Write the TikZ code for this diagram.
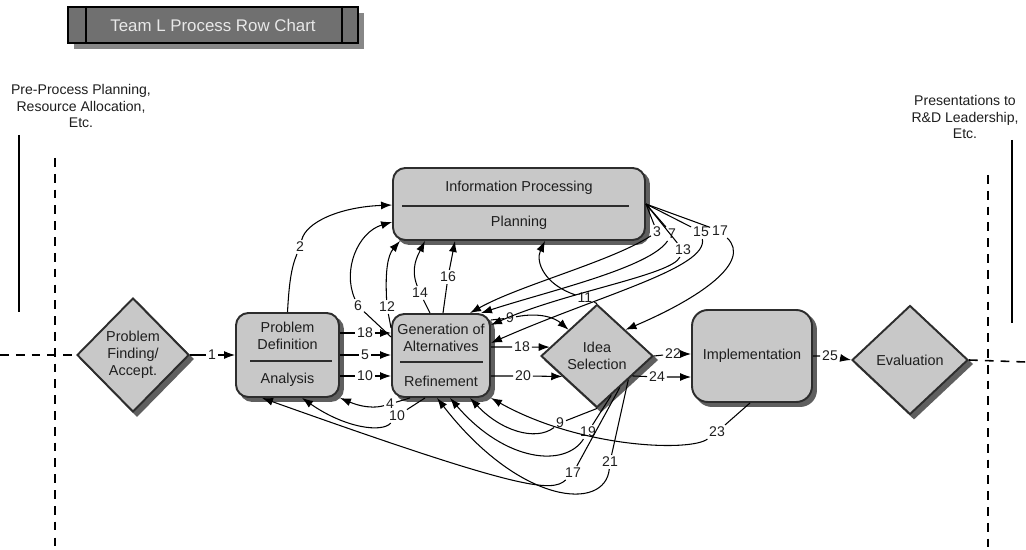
\documentclass[tikz,border=0pt]{standalone}
\usepackage{fontspec}
\setmainfont{Liberation Sans}
\usepackage{xcolor}
\usepackage{tikz}
\usetikzlibrary{arrows.meta,shapes.geometric,calc}
\definecolor{boxfill}{RGB}{200,200,200}
\definecolor{boxline}{RGB}{45,45,45}
\definecolor{shadowgray}{RGB}{95,95,95}
\definecolor{titlefill}{RGB}{112,112,112}
\definecolor{titleshade}{RGB}{135,135,135}
\definecolor{titletext}{RGB}{232,232,232}
\definecolor{inktext}{RGB}{30,30,30}
\newcommand\boxfont{\fontsize{8.2}{9.8}\selectfont}
\newcommand\numfont{\fontsize{8}{9}\selectfont}
\tikzset{
    box/.style={rectangle,draw=boxline,line width=1.1pt,fill=boxfill,rounded corners=7pt,inner sep=0pt},
    dia/.style={diamond,draw=boxline,line width=1.1pt,fill=boxfill,inner sep=0pt,align=center,text=inktext},
    shadowed/.style={fill=shadowgray,draw=shadowgray},
    titlebox/.style={rectangle,draw=black,line width=1.3pt,fill=titlefill,text=titletext,
        font=\fontsize{9.6}{11}\selectfont},
    txt/.style={align=center,text=inktext},
    note/.style={align=center,text=inktext,font=\fontsize{8}{9.2}\selectfont},
    lbl/.style={inner sep=1pt,text=inktext,font=\numfont},
    arr/.style={-{Latex[length=2.2mm,width=1.6mm]},line width=0.6pt},
    sepline/.style={draw=boxline,line width=1pt},
    guide/.style={line width=0.9pt,dash pattern=on 5pt off 4pt},
}
\begin{document}
\begin{tikzpicture}[x=0.02cm,y=-0.02cm,every node/.style={font=\boxfont}]
\useasboundingbox (0,0) rectangle (1026,550);

\node[rectangle,fill=titleshade,minimum width=5.8cm,minimum height=0.72cm] (titlesh) at (219,31) {};
\node[titlebox,minimum width=5.8cm,minimum height=0.72cm] (title) at (213,25) {Team L Process Row Chart};
\draw[line width=1.2pt] (title.north -| 86,0) -- (title.south -| 86,0);
\draw[line width=1.2pt] (title.north -| 342,0) -- (title.south -| 342,0);

\node[note] (pre) at (81,106) {Pre-Process Planning,\\Resource Allocation,\\Etc.};
\node[note] (post) at (965,117) {Presentations to\\R\&D Leadership,\\Etc.};

\draw[line width=1.1pt] (19,135) -- (19,312);
\draw[guide] (55,158) -- (55,550);
\draw[line width=1.1pt] (1012,140) -- (1012,323);
\draw[guide] (988,175) -- (988,550);

\node[dia,shadowed,minimum width=2.24cm,minimum height=2.28cm] (pfash) at (137,359) {};
\node[dia,minimum width=2.24cm,minimum height=2.28cm] (pfa) at (133,355) {Problem\\Finding/\\Accept.};
\node[box,shadowed,minimum width=2.06cm,minimum height=1.68cm] (pdsh) at (291.5,359) {};
\node[box,minimum width=2.06cm,minimum height=1.68cm] (pd) at (287.5,355) {};
\node[txt] (pdtop) at (287.5,336) {Problem\\Definition};
\node[txt] (pdbot) at (287.5,380) {Analysis};
\draw[sepline] (250,361) -- (332,361);
\node[box,shadowed,minimum width=1.96cm,minimum height=1.66cm] (gensh) at (445,359.5) {};
\node[box,minimum width=1.96cm,minimum height=1.66cm] (gen) at (441,355.5) {};
\node[txt] (gentop) at (441,338) {Generation of\\Alternatives};
\node[txt] (genbot) at (441,381) {Refinement};
\draw[sepline] (400,362) -- (483,362);
\node[box,shadowed,minimum width=5.04cm,minimum height=1.44cm] (infosh) at (523,208) {};
\node[box,minimum width=5.04cm,minimum height=1.44cm] (info) at (519,204) {};
\node[txt] (infotop) at (519,188) {Information Processing};
\node[txt] (infobot) at (519,223) {Planning};
\draw[sepline] (402,206) -- (629,206);
\node[dia,shadowed,minimum width=2.24cm,minimum height=2.06cm] (issh) at (601,360) {};
\node[dia,minimum width=2.24cm,minimum height=2.06cm] (is) at (597,356) {Idea\\Selection};
\node[box,shadowed,minimum width=2.4cm,minimum height=1.84cm,rounded corners=9pt] (implsh) at (756,360) {};
\node[box,minimum width=2.4cm,minimum height=1.84cm,rounded corners=9pt,text=inktext] (impl) at (752,356) {Implementation};
\node[dia,shadowed,minimum width=2.32cm,minimum height=2.18cm] (evalsh) at (914,364) {};
\node[dia,minimum width=2.32cm,minimum height=2.18cm] (eval) at (910,360) {Evaluation};

\draw[guide] (0,355) -- (pfa.west);
\draw[guide] (eval.east) -- (1026,362);

\node[lbl] (n1) at (212,355) {1};
\node[lbl] (n2) at (300,247) {2};
\node[lbl] (n6) at (358,306) {6};
\node[lbl] (n12) at (387,307) {12};
\node[lbl] (n14) at (420,293) {14};
\node[lbl] (n16) at (448,277) {16};
\node[lbl] (n18a) at (365,333) {18};
\node[lbl] (n5) at (365,355) {5};
\node[lbl] (n10a) at (365,376) {10};
\node[lbl] (n4) at (390,404) {4};
\node[lbl] (n10b) at (397,416) {10};
\node[lbl] (n3) at (657,232) {3};
\node[lbl] (n7) at (672,234) {7};
\node[lbl] (n13) at (683,250) {13};
\node[lbl] (n15) at (701,232) {15};
\node[lbl] (n17a) at (720,231) {17};
\node[lbl] (n11) at (585,298) {11};
\node[lbl] (n9a) at (510,318) {9};
\node[lbl] (n18b) at (522,347) {18};
\node[lbl] (n20) at (523,376) {20};
\node[lbl] (n22) at (673,354) {22};
\node[lbl] (n24) at (657,377) {24};
\node[lbl] (n25) at (830,356) {25};
\node[lbl] (n9b) at (560,423) {9};
\node[lbl] (n19) at (588,432) {19};
\node[lbl] (n21) at (610,462) {21};
\node[lbl] (n17b) at (573,473) {17};
\node[lbl] (n23) at (717,432) {23};

\draw[arr] (pfa.east) -- (n1) -- (pd.west |- n1);
\draw[arr] (pd.east |- n18a) -- (n18a) -- (gen.west |- n18a);
\draw[arr] (pd.east |- n5) -- (n5) -- (gen.west |- n5);
\draw[arr] (pd.east |- n10a) -- (n10a) -- (gen.west |- n10a);
\draw[arr] (gen.south -| 410,0) -- (n4) .. controls (368,410) and (352,403) .. (pd.south east);
\draw[arr] (gen.south -| 425,0) -- (n10b) .. controls (382,433) and (345,428) .. (pd.south -| 302,0);

\draw[arr] (pd.north) .. controls (289,285) and (291,268) .. (n2) .. controls (306,222) and (340,207) .. (info.west |- 0,205);
\draw[arr] (gen.west |- 0,337) -- (n6) .. controls (342,270) and (358,232) .. (info.west |- 0,222);
\draw[arr] (gen.west |- 0,328) -- (n12) .. controls (385,270) and (388,255) .. (info.south -| 400,0);
\draw[arr] (gen.north -| 430,0) -- (n14) .. controls (410,268) and (418,255) .. (info.south -| 425,0);
\draw[arr] (gen.north -| 443,0) -- (n16) -- (info.south -| 455,0);
\draw[arr] (is.north) -- (n11) .. controls (545,285) and (535,262) .. (info.south -| 545,0);

\draw[arr] (info.east) -- (n3) .. controls (610,262) and (520,285) .. (gen.north -| 470,0);
\draw[arr] (info.east) -- (n7) .. controls (650,268) and (545,292) .. (gen.north -| 481,0);
\draw[arr] (info.east) -- (n13) .. controls (672,275) and (565,292) .. (gen.east |- 0,325);
\draw[arr] (info.east) -- (n15) .. controls (708,268) and (600,295) .. (gen.east |- 0,343);
\draw[arr] (info.east) -- (n17a) .. controls (752,262) and (700,298) .. (is.north east);

\draw[arr] (gen.east |- 0,320) -- (n9a) .. controls (540,312) and (555,318) .. (is.north west);
\draw[arr] (gen.east |- n18b) -- (n18b) -- ($(is.west)!.17!(is.north)$);
\draw[arr] (gen.east |- n20) -- (n20) -- ($(is.west)!.39!(is.south)$);
\draw[arr] (is.east) -- (n22) -- (impl.west |- n22);
\draw[arr] ($(is.east)!.38!(is.south)$) -- (n24) -- (impl.west |- n24);
\draw[arr] (impl.east |- n25) -- (n25) -- (eval.west);

\draw[arr] (is.south) -- (n9b) .. controls (535,442) and (500,430) .. (gen.south -| 470,0);
\draw[arr] ($(is.east)!.75!(is.south)$) -- (n19) .. controls (565,468) and (505,462) .. (gen.south -| 450,0);
\draw[arr] ($(is.east)!.45!(is.south)$) -- (n21) .. controls (605,512) and (520,505) .. (gen.south -| 437,0);
\draw[arr] ($(is.east)!.6!(is.south)$) -- (n17b) .. controls (552,493) and (520,490) .. (pd.south -| 262,0);
\draw[arr] (impl.south -| 750,0) -- (n23) .. controls (690,452) and (580,448) .. (gen.south east);
\end{tikzpicture}
\end{document}
